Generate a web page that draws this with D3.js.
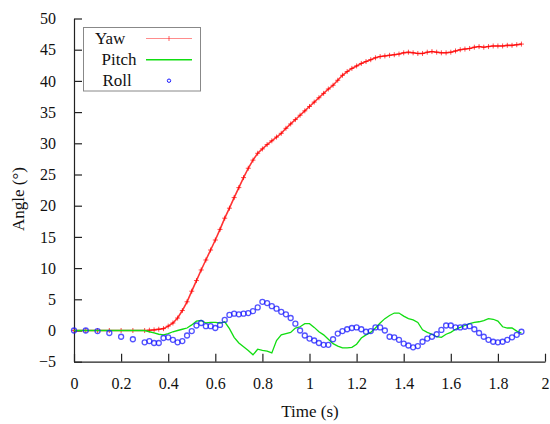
<!DOCTYPE html>
<html><head><meta charset="utf-8">
<script src="https://cdn.jsdelivr.net/npm/d3@7"></script>
<style>body{margin:0;background:#fff;} svg{display:block;} svg text{font-family:"Liberation Serif","Times New Roman","DejaVu Serif",serif !important;}</style>
</head><body>
<script>
const seriesNames = ["Yaw", "Pitch", "Roll"];
const xTicks = [0, 0.2, 0.4, 0.6, 0.8, 1, 1.2, 1.4, 1.6, 1.8, 2];
const yTicks = [-5, 0, 5, 10, 15, 20, 25, 30, 35, 40, 45, 50];
const time = [0, 0.05, 0.1, 0.15, 0.2, 0.25,
  0.30,0.32,0.34,0.36,0.38,0.40,0.42,0.44,0.46,0.48,0.50,0.52,0.54,0.56,0.58,0.60,0.62,0.64,0.66,0.68,
  0.70,0.72,0.74,0.76,0.78,0.80,0.82,0.84,0.86,0.88,0.90,0.92,0.94,0.96,0.98,1.00,1.02,1.04,1.06,1.08,
  1.10,1.12,1.14,1.16,1.18,1.20,1.22,1.24,1.26,1.28,1.30,1.32,1.34,1.36,1.38,1.40,1.42,1.44,1.46,1.48,
  1.50,1.52,1.54,1.56,1.58,1.60,1.62,1.64,1.66,1.68,1.70,1.72,1.74,1.76,1.78,1.80,1.82,1.84,1.86,1.88,1.90];
const yaw = [0, 0, 0, 0, 0, 0,
  0.0,0.05,0.1,0.2,0.3,0.7,1.2,2.0,3.2,4.6,6.3,8.0,9.7,11.3,12.9,14.5,16.2,18.0,19.6,21.3,
  22.9,24.5,26.0,27.3,28.4,29.1,29.8,30.4,31.0,31.6,32.4,33.1,33.8,34.5,35.2,35.9,36.6,37.3,38.0,38.7,
  39.3,40.1,40.9,41.5,42.0,42.4,42.8,43.1,43.4,43.7,43.9,44.0,44.1,44.2,44.3,44.5,44.6,44.5,44.4,44.4,
  44.6,44.7,44.6,44.5,44.5,44.6,44.8,45.0,45.1,45.2,45.4,45.5,45.4,45.5,45.6,45.6,45.6,45.7,45.7,45.8,45.9];
const pitch = [0, 0, 0, 0, 0, 0,
  0.0,-0.2,-0.4,-0.6,-0.7,-0.5,-0.2,0.0,0.2,0.4,0.9,1.5,1.6,1.2,1.3,1.3,1.2,1.4,0.3,-1.1,
  -2.0,-2.6,-3.2,-3.9,-3.0,-3.2,-3.3,-3.6,-1.6,-0.7,-0.5,-0.3,0.4,0.6,1.1,1.1,0.5,-0.2,-0.7,-1.4,
  -2.1,-2.5,-2.8,-2.8,-2.7,-2.2,-1.2,-0.7,-0.3,0.4,1.2,1.9,2.4,2.8,2.8,2.3,1.9,1.7,1.3,0.1,
  -0.3,-0.6,-1.0,-1.1,-0.6,-0.3,0.2,0.5,0.8,1.1,1.3,1.4,1.6,1.9,1.8,1.5,0.6,0.4,0.4,-0.1,-0.4];
const roll = [0, 0, -0.1, -0.4, -1.0, -1.4,
  -1.9,-1.7,-2.0,-2.0,-1.2,-1.1,-1.5,-1.9,-1.7,-0.8,-0.1,0.8,1.2,0.7,0.7,0.4,0.9,1.7,2.5,2.7,
  2.6,2.7,2.8,3.1,3.7,4.6,4.4,3.9,3.5,3.0,2.6,2.0,1.1,0.0,-0.8,-1.3,-1.6,-2.0,-2.3,-2.3,
  -1.4,-0.5,-0.1,0.2,0.4,0.5,0.2,-0.2,-0.1,0.5,0.5,0.0,-1.0,-1.1,-1.5,-2.1,-2.4,-2.7,-2.5,-1.8,
  -1.3,-1.0,-0.6,0.1,0.8,0.8,0.5,0.5,0.6,0.7,0.2,-0.4,-1.0,-1.5,-1.8,-1.9,-1.8,-1.5,-1.1,-0.7,-0.2];

const W = 550, H = 424;
const svg = d3.select("body").append("svg").attr("width", W).attr("height", H);
const x = d3.scaleLinear().domain([0, 2]).range([74, 545]);
const y = d3.scaleLinear().domain([-5, 50]).range([361.7, 18.5]);

// axes
const xAxis = d3.axisBottom(x).tickValues(xTicks).tickSizeInner(-8).tickSizeOuter(0).tickPadding(16)
  .tickFormat(d => d3.format("")(d));
const yAxis = d3.axisLeft(y).tickValues(yTicks).tickSizeInner(-8).tickSizeOuter(0).tickPadding(18);
const gx = svg.append("g").attr("transform", `translate(0,${y(-5)})`).call(xAxis);
const gy = svg.append("g").attr("transform", `translate(${x(0)},0)`).call(yAxis);
[gx, gy].forEach(g => {
  g.attr("font-family", null);
  g.select(".domain").attr("stroke", "#222").attr("stroke-width", 1.2);
  g.selectAll(".tick line").attr("stroke", "#222").attr("stroke-width", 1.2);
  g.selectAll("text").attr("font-size", 16).attr("fill", "#111");
});
gx.selectAll(".tick text").attr("dy", "0.71em");

svg.append("text").attr("x", 310).attr("y", 417).attr("text-anchor", "middle")
  .attr("font-size", 17).attr("fill", "#111").text("Time (s)");
svg.append("text").attr("transform", "translate(24,199) rotate(-90)").attr("text-anchor", "middle")
  .attr("font-size", 17).attr("fill", "#111").text("Angle (°)");

const idx = d3.range(time.length);
const line = arr => d3.line().x(i => x(time[i])).y(i => y(arr[i]))(idx);

// Yaw: line + plus markers
svg.append("path").attr("d", line(yaw)).attr("fill", "none").attr("stroke", "#ff0000")
  .attr("stroke-width", 1.6).attr("stroke-opacity", 0.8);
svg.append("g").selectAll("path").data(idx).join("path")
  .attr("d", i => { const cx = x(time[i]), cy = y(yaw[i]); return `M${cx-2.5},${cy}H${cx+2.5}M${cx},${cy-2.5}V${cy+2.5}`; })
  .attr("stroke", "#ff0000").attr("stroke-width", 1).attr("stroke-opacity", 0.7);

// Pitch: line
svg.append("path").attr("d", line(pitch)).attr("fill", "none").attr("stroke", "#11dd11")
  .attr("stroke-width", 1.3);

// Roll: circles
svg.append("g").selectAll("circle").data(idx).join("circle")
  .attr("cx", i => x(time[i])).attr("cy", i => y(roll[i])).attr("r", 2.5)
  .attr("fill", "none").attr("stroke", "#1a1aff").attr("stroke-width", 1.3).attr("stroke-opacity", 0.75);

// legend
const lg = svg.append("g");
lg.append("rect").attr("x", 83.5).attr("y", 27.5).attr("width", 117).attr("height", 63.5)
  .attr("fill", "#fff").attr("stroke", "#888").attr("stroke-width", 1);
const legX = [95, 101.5, 102.5], legY = [44, 65, 86], symY = [38.5, 59.7, 80.7];
seriesNames.forEach((n, k) => {
  lg.append("text").attr("x", legX[k]).attr("y", legY[k])
    .attr("font-size", 17).attr("fill", "#111").text(n);
});
lg.append("line").attr("x1", 146).attr("x2", 192).attr("y1", symY[0]).attr("y2", symY[0])
  .attr("stroke", "#ff0000").attr("stroke-opacity", 0.45).attr("stroke-width", 1.2);
lg.append("path").attr("d", `M169,${symY[0]-2.5}V${symY[0]+2.5}`).attr("stroke", "#ff0000").attr("stroke-opacity", 0.6);
lg.append("line").attr("x1", 146).attr("x2", 192).attr("y1", symY[1]).attr("y2", symY[1])
  .attr("stroke", "#11dd11").attr("stroke-width", 1.6);
lg.append("circle").attr("cx", 169).attr("cy", symY[2]).attr("r", 1.7).attr("fill", "none")
  .attr("stroke", "#1a1aff").attr("stroke-width", 1);
</script>
</body></html>
